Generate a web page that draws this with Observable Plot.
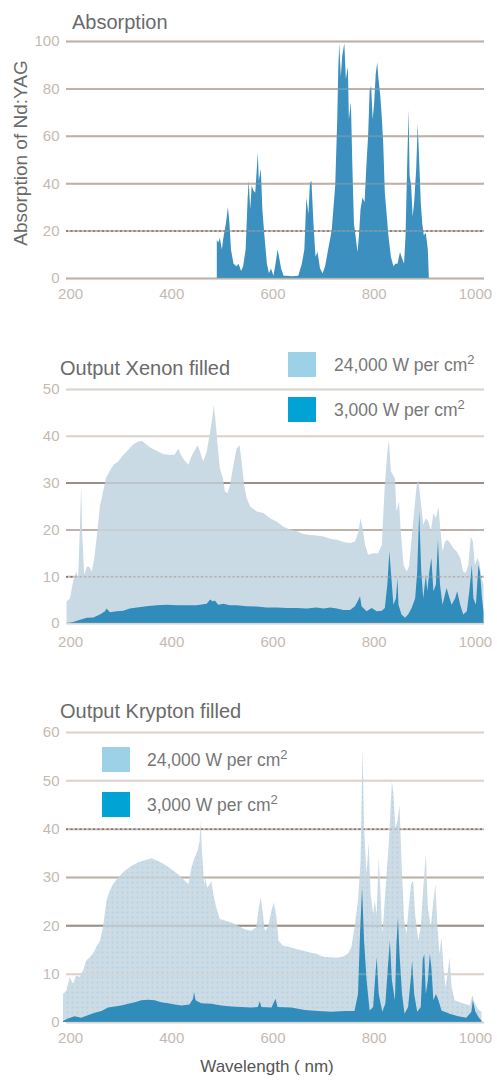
<!DOCTYPE html>
<html>
<head>
<meta charset="utf-8">
<script src="https://cdn.jsdelivr.net/npm/d3@7"></script>
<script src="https://cdn.jsdelivr.net/npm/@observablehq/plot@0.6"></script>
<style>
  html, body { margin: 0; padding: 0; background: #ffffff; }
  #wrap { position: relative; width: 497px; height: 1086px; overflow: hidden;
          font-family: "Liberation Sans", Arial, Helvetica, sans-serif; }
  .panel { position: absolute; left: 0; }
  #overlay { position: absolute; left: 0; top: 0; pointer-events: none; }
</style>
</head>
<body>
<div id="wrap"></div>
<script>
// ---------------- data ----------------
const xTicks = [200, 400, 600, 800, 1000];
const absTicks = [0, 20, 40, 60, 80, 100];
const xenonTicks = [0, 10, 20, 30, 40, 50];
const kryptonTicks = [0, 10, 20, 30, 40, 50, 60];

const panelTitles = ["Absorption", "Output Xenon filled", "Output Krypton filled"];
const yAxisTitle = "Absorption of Nd:YAG";
const xAxisTitle = "Wavelength ( nm)";
const seriesNames = ["24,000 W per cm", "3,000 W per cm"];

// Absorption of Nd:YAG (%)
const absWavelength = [
  490,493,496,500,503,508,512,515,518,523,
  529,533,538,542,547,551,553,556,559,562,
  566,569,571,573,577,580,584,589,593,597,
  602,606,610,613,617,622,628,638,651,658,
  663,667,671,674,677,681,685,689,694,699,
  704,710,717,724,728,730,732,735,738,742,
  745,749,751,755,758,761,764,768,771,774,
  778,782,786,789,792,795,798,801,804,807,
  809,813,816,819,822,826,829,834,839,843,
  847,852,855,860,863,866,869,871,874,877,
  880,884,887,890,893,896,899,903,907,909];
const absValue = [
  16,15,17,12,17,23,30,23,12,6,
  5,6,3,5,12,34,41,29,39,37,
  36,46,53,41,46,29,18,6,2,4,
  1,6,12,9,4,1,1,0.7,1,6,
  12,34,27,40,41,23,9,11,4,2,
  5,12,20,39,67,88,99,85,94,99,
  84,89,67,74,46,23,18,11,18,29,
  34,32,49,60,79,81,67,74,86,91,
  85,77,68,56,36,26,18,9,5,6,
  6,11,9,6,18,46,71,43,39,26,
  32,46,65,49,32,23,18,19,12,0];

// Xenon, 24,000 W per cm2
const xenonHighWavelength = [
  193,200,206,212,216,220,222,224,228,233,
  238,243,248,254,259,264,271,278,286,295,
  305,315,325,335,342,348,358,371,384,398,
  407,414,419,425,434,440,447,452,457,463,
  470,477,481,484,487,491,496,502,506,511,
  516,523,529,535,539,544,549,556,569,582,
  595,608,621,635,648,661,674,687,701,714,
  727,740,753,763,770,774,778,783,789,799,
  809,816,822,827,830,834,838,842,845,850,
  853,859,865,870,875,880,885,888,893,898,
  903,908,913,918,923,928,931,936,941,946,
  951,957,964,971,977,982,987,992,996,1000,
  1005,1009,1013,1017];
const xenonHighValue = [
  4.6,5.3,8.9,11,9.6,22,29.5,19,10.3,12,
  12,11,13.9,19.6,25,27.4,31,32.4,33.8,34.5,
  35.9,37,38.2,38.8,38.9,38.4,37.5,36.8,36.1,35.9,
  36,37.3,35.9,34.9,33.8,35.6,37,38,36.6,34.5,
  36.6,40.9,43.7,46.6,43.7,38.8,33,31,28.1,27.7,
  29.5,33.8,37.3,38,34.5,29.5,26.7,24.9,23.8,23.5,
  22.4,21.7,20.6,19.9,19.6,19,18.8,18.7,18.5,18,
  17.8,17.3,17.1,17.4,19.6,22.4,20.3,16.7,14.6,14.9,
  14.9,16.7,29.5,36.6,39.1,32.4,31.6,30.9,23.8,26,
  20.3,12.4,11,12.1,18.1,23.8,29.5,30.6,26,21,
  22.4,21.7,19.6,23.5,22.4,24.9,21,15.3,17.4,17.8,
  17.1,16,15.3,13.9,11,10.7,12.4,18.5,17.4,12.4,
  13.9,12.8,9.6,8.2];

// Xenon, 3,000 W per cm2
const xenonLowWavelength = [
  193,206,220,233,246,259,269,272,279,292,
  305,318,332,351,371,391,411,430,450,470,
  477,482,486,493,503,516,529,549,569,588,
  608,628,648,668,687,701,714,727,740,753,
  763,770,773,776,786,796,806,816,822,827,
  831,835,839,844,847,849,855,862,868,875,
  882,886,890,894,898,903,906,910,914,918,
  923,927,931,936,944,950,954,961,965,971,
  977,984,989,994,997,1002,1007,1010,1014,1017];
const xenonLowValue = [
  0,0.2,0.7,1.1,1.2,1.8,2.5,3.1,2.3,2.5,
  2.6,3.1,3.3,3.6,3.8,3.9,3.8,3.8,3.8,4.1,
  5,4.6,4.8,3.9,4.1,3.8,3.8,3.6,3.5,3.3,
  3.3,3.2,3.2,3.1,3.3,3.1,3.3,3.1,2.8,2.8,
  3.6,5,5.7,3.6,2.5,3.2,2.5,2.6,3.2,8.2,
  15.3,9.6,3.9,5.3,9.6,3.9,1.8,1.1,1.8,3.2,
  5.3,11,23.8,11,5.3,10.3,6.8,11,13.9,6.8,
  8.2,17.8,8.2,3.9,7.5,5.3,3.9,5.3,6.8,3.9,
  1.8,2.5,6.8,12.4,5.3,3.9,12.4,11,5.3,2.5];

// Krypton, 24,000 W per cm2
const kryptonHighWavelength = [
  186,193,199,206,212,219,226,232,239,245,
  252,259,265,272,278,285,295,308,321,334,
  348,361,374,387,400,413,427,434,440,446,
  452,456,458,461,465,467,471,476,479,483,
  489,496,506,519,532,545,558,568,573,577,
  581,585,591,598,603,608,612,621,634,647,
  660,674,687,700,713,726,739,749,756,762,
  769,774,778,781,786,790,794,799,802,806,
  810,813,817,820,825,830,834,836,839,843,
  847,851,855,860,865,869,874,878,882,888,
  893,898,903,907,913,918,922,926,930,934,
  938,942,946,950,954,960,970,980,990,995,
  1000,1006,1013];
const kryptonHighValue = [
  5.8,6.5,9.3,7.9,9.6,9.3,10.7,12.7,13.4,14.1,
  15.5,16.8,19.6,25.1,27.1,28.5,29.9,31.3,32.3,33,
  33.5,33.9,33.3,32.6,31.6,30.6,29.2,28.5,32,34,
  35.4,37.5,41.6,34.7,28.5,29.9,27.8,28.5,29.2,26.5,
  23.7,21.3,21,20.6,19.9,19.2,18.9,19.6,23.7,25.8,
  22.3,18.9,19.6,23,24.7,21.6,16.8,15.8,15.5,15.1,
  14.8,14.4,14.1,13.5,13.4,13.3,13.5,14.1,15.5,19.6,
  25.1,33.3,56.7,40.2,30.6,37.1,26.5,22.3,25.1,22.3,
  34,27.8,18.2,22.3,29.9,37.1,45.7,49.8,47.1,40.2,
  41.6,45,33.3,21,18.2,23.7,28.5,29.2,22.3,16.8,
  19.6,27.8,34.7,23.7,19.6,25.1,28.5,19.6,14.1,17.5,
  11.3,7.2,10,13.4,7.2,4.5,4.1,3.8,3.4,5.5,
  3.8,2.7,2.1];

// Krypton, 3,000 W per cm2
const kryptonLowWavelength = [
  186,196,209,222,235,249,262,275,288,301,
  315,328,341,354,367,380,394,407,420,436,
  443,445,448,459,479,499,519,538,558,571,
  575,578,598,606,610,637,664,690,716,743,
  762,769,773,777,781,786,792,799,803,806,
  810,817,823,828,832,836,842,845,848,851,
  856,861,868,873,876,880,886,893,897,900,
  903,907,911,914,918,923,928,934,940,950,
  967,983,993,996,1001,1008,1013];
const kryptonLowValue = [
  0.2,0.7,1.2,0.9,1.4,1.9,2.3,3,3.2,3.4,
  3.8,4.1,4.5,4.6,4.5,4.1,3.9,3.6,3.4,3.6,
  4.8,6.2,4.5,3.9,3.8,3.4,3.2,3.1,3,3.1,
  4.3,3.1,3,4.8,3.1,3,2.5,2.3,2.1,2.3,
  2.3,5.8,18.2,27.8,16.8,8.6,2.4,3.1,9.3,13.4,
  5.8,2.1,3.8,11.3,16.8,8.6,4.5,16.2,21.6,14.1,
  5.8,1.7,3.1,8.6,12.7,5.8,2.1,3.1,13,14,
  5.8,8.6,14.1,11.3,4.5,5.8,4.5,2.4,2.1,1.7,
  1.2,0.9,2.1,4.5,2.1,0.9,0.3];

// ---------------- helpers ----------------
const table = (wl, v) => wl.map((w, i) => ({wl: w, v: v[i]}));
const xDomain = [192, 1018];
const W = 497;
const FONT = '"Liberation Sans", Arial, Helvetica, sans-serif';

function gridMarks(ticks, dark, dotted, light, alpha) {
  const marks = [];
  const solid = ticks.filter(t => !dark.includes(t) && !dotted.includes(t) && !light.includes(t));
  marks.push(Plot.ruleY(solid, {stroke: "#bdb2aa", strokeWidth: 2, strokeOpacity: alpha}));
  marks.push(Plot.ruleY(light, {stroke: "#ddd4cd", strokeWidth: 2, strokeOpacity: alpha}));
  marks.push(Plot.ruleY(dark, {stroke: "#9a8f88", strokeWidth: 2, strokeOpacity: alpha}));
  marks.push(Plot.ruleY(dotted, {stroke: "#c9bfb8", strokeWidth: 2, strokeOpacity: alpha}));
  marks.push(Plot.ruleY(dotted, {stroke: "#6f655f", strokeWidth: 1.5, strokeDasharray: "2,2.5", strokeOpacity: alpha}));
  return marks;
}

function makePanel({height, marginTop, marginBottom, yDomain, yTicks, tickPad, areas, grid}) {
  return Plot.plot({
    width: W,
    height,
    marginLeft: 66,
    marginRight: 13,
    marginTop,
    marginBottom,
    style: {fontFamily: FONT, fontSize: "15px", color: "#c4bab2", background: "transparent", overflow: "visible"},
    x: {domain: xDomain, ticks: xTicks, tickSize: 0, tickPadding: tickPad, tickFormat: d => String(d), label: null},
    y: {domain: yDomain, ticks: yTicks, tickSize: 0, tickPadding: 7, label: null},
    marks: [
      ...gridMarks(yTicks, grid.dark, grid.dotted, grid.light, 1),
      ...areas.map(a => Plot.areaY(a.data, {x: "wl", y: "v", fill: a.fill, curve: "linear"})),
      ...gridMarks(yTicks, grid.dark, grid.dotted, grid.light, 0.28)
    ]
  });
}

const wrap = document.getElementById("wrap");
function place(node, top) {
  const d = document.createElement("div");
  d.className = "panel";
  d.style.top = top + "px";
  d.appendChild(node);
  wrap.appendChild(d);
}

// stipple texture for the krypton 24,000 W area
function addDots(svg, baseColor, id, bg, dot) {
  const ns = "http://www.w3.org/2000/svg";
  const defs = document.createElementNS(ns, "defs");
  const p = document.createElementNS(ns, "pattern");
  p.setAttribute("id", id);
  p.setAttribute("patternUnits", "userSpaceOnUse");
  p.setAttribute("width", 5); p.setAttribute("height", 5);
  const r = document.createElementNS(ns, "rect");
  r.setAttribute("width", 5); r.setAttribute("height", 5); r.setAttribute("fill", bg);
  const c = document.createElementNS(ns, "circle");
  c.setAttribute("cx", 2.5); c.setAttribute("cy", 2.5); c.setAttribute("r", 0.9); c.setAttribute("fill", dot);
  p.appendChild(r); p.appendChild(c); defs.appendChild(p);
  svg.insertBefore(defs, svg.firstChild);
  svg.querySelectorAll('[fill="' + baseColor + '"]').forEach(el => el.setAttribute("fill", "url(#" + id + ")"));
}

// Panel 1: absorption
place(makePanel({
  height: 300, marginTop: 41, marginBottom: 22, yDomain: [0, 100], yTicks: absTicks, tickPad: 10,
  areas: [{data: table(absWavelength, absValue), fill: "#3b90bf"}],
  grid: {dark: [], dotted: [20], light: []}
}), 0);

// Panel 2: xenon
place(makePanel({
  height: 320, marginTop: 59, marginBottom: 27, yDomain: [0, 50], yTicks: xenonTicks, tickPad: 13,
  areas: [
    {data: table(xenonHighWavelength, xenonHighValue), fill: "#c9dae5"},
    {data: table(xenonLowWavelength, xenonLowValue), fill: "#2f8cbb"}
  ],
  grid: {dark: [30], dotted: [10], light: [0, 40, 50]}
}), 330);

// Panel 3: krypton
const kr = makePanel({
  height: 360, marginTop: 42, marginBottom: 28, yDomain: [0, 60], yTicks: kryptonTicks, tickPad: 10,
  areas: [
    {data: table(kryptonHighWavelength, kryptonHighValue), fill: "#cbdbe5"},
    {data: table(kryptonLowWavelength, kryptonLowValue), fill: "#2f8cbb"}
  ],
  grid: {dark: [20], dotted: [40], light: [0, 10, 50, 60]}
});
addDots(kr, "#cbdbe5", "krdots", "#cddbe4", "#aed2ea");
place(kr, 690);

// ---------------- titles & legends ----------------
const ns = "http://www.w3.org/2000/svg";
const ov = document.createElementNS(ns, "svg");
ov.setAttribute("id", "overlay");
ov.setAttribute("width", W);
ov.setAttribute("height", 1086);
ov.style.fontFamily = FONT;
wrap.appendChild(ov);

function txt(x, y, s, size, fill, extra) {
  const t = document.createElementNS(ns, "text");
  t.setAttribute("x", x); t.setAttribute("y", y);
  t.setAttribute("font-size", size); t.setAttribute("fill", fill);
  if (extra) for (const k in extra) t.setAttribute(k, extra[k]);
  t.textContent = s;
  ov.appendChild(t);
  return t;
}
function sup(t, s) {
  const sp = document.createElementNS(ns, "tspan");
  sp.setAttribute("dy", -7);
  sp.setAttribute("font-size", 13);
  sp.textContent = s;
  t.appendChild(sp);
}
function rect(x, y, w, h, fill) {
  const r = document.createElementNS(ns, "rect");
  r.setAttribute("x", x); r.setAttribute("y", y);
  r.setAttribute("width", w); r.setAttribute("height", h);
  r.setAttribute("fill", fill);
  ov.appendChild(r);
}

txt(72, 29, panelTitles[0], 20, "#6a6a6a");
txt(0, 0, yAxisTitle, 19, "#6a6a6a", {"text-anchor": "middle", transform: "translate(27,153) rotate(-90)"});
txt(60, 375, panelTitles[1], 20, "#6a6a6a");
txt(60, 718, panelTitles[2], 20, "#6a6a6a");
txt(267, 1072, xAxisTitle, 17, "#555555", {"text-anchor": "middle"});

const swatchLight = "#9dd1e8", swatchDark = "#00a3d3";
// Xenon legend
rect(288, 352, 28, 25, swatchLight);
sup(txt(334, 371, seriesNames[0], 17.5, "#777777"), "2");
rect(288, 397, 28, 25, swatchDark);
sup(txt(334, 416, seriesNames[1], 17.5, "#777777"), "2");
// Krypton legend
rect(102, 747, 28, 25, swatchLight);
sup(txt(147, 766, seriesNames[0], 17.5, "#777777"), "2");
rect(102, 792, 28, 25, swatchDark);
sup(txt(147, 811, seriesNames[1], 17.5, "#777777"), "2");
</script>
</body>
</html>
